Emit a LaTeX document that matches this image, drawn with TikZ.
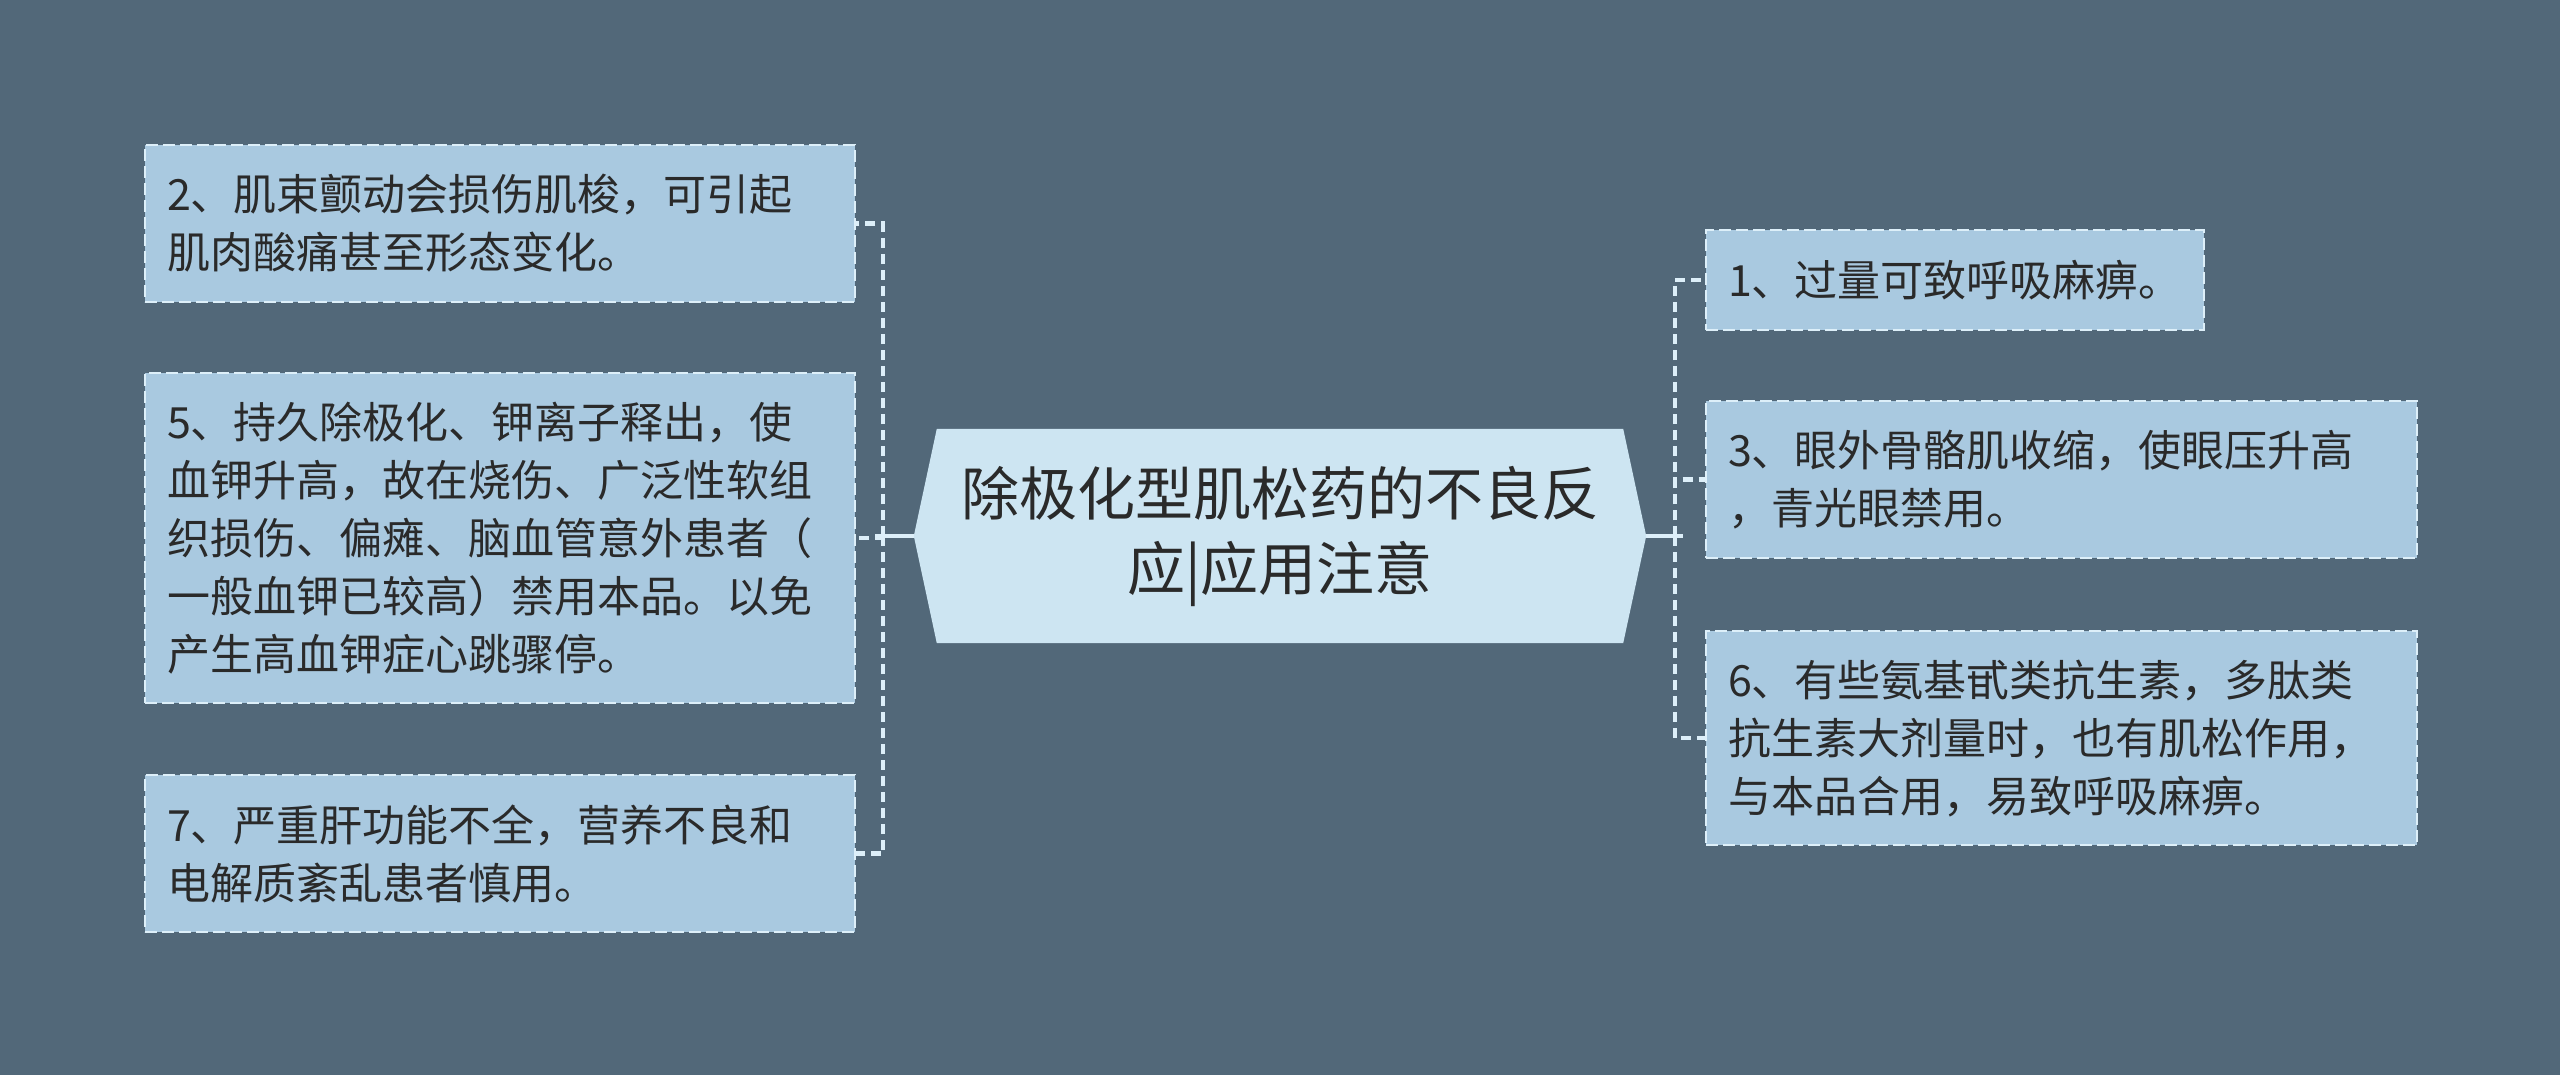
\documentclass[tikz,border=0pt]{standalone}
\usepackage{fontspec}
\setmainfont{Noto Sans CJK SC}
\usetikzlibrary{calc}
\definecolor{bg}{HTML}{526879}
\definecolor{boxfill}{HTML}{A9C9E0}
\definecolor{cfill}{HTML}{CDE5F2}
\definecolor{edge}{HTML}{DDEFF9}
\definecolor{txt}{HTML}{2A2A2A}
\begin{document}
\begin{tikzpicture}[x=1pt,y=-1pt,
  leaf/.style={draw=edge, fill=boxfill, line width=2.2pt, dash pattern=on 12pt off 5pt,
    anchor=north west, inner xsep=22pt, inner ysep=0pt, align=left, text=txt,
    font=\fontsize{43}{58}\selectfont},
  conn/.style={draw=edge, line width=4.5pt, dash pattern=on 10pt off 6pt},
  stub/.style={draw=edge, line width=4.5pt}]
\fill[bg] (0,0) rectangle (2560,1075);
\useasboundingbox (0,0) rectangle (2560,1075);
% center
\node[minimum width=732pt, minimum height=214pt, inner sep=0pt, align=center, text=txt,
  font=\fontsize{58}{75}\selectfont] (c) at (1280,536) {};
\fill[cfill] (c.west) -- ($(c.north west)+(23,0)$) -- ($(c.north east)+(-23,0)$) -- (c.east)
  -- ($(c.south east)+(-23,0)$) -- ($(c.south west)+(23,0)$) -- cycle;
\node[align=center, text=txt, font=\fontsize{58}{75}\selectfont] (ct) at (c.center)
  {除极化型肌松药的不良反\\应|应用注意};
% left leaves
\node[leaf, text width=666pt, minimum width=710pt, minimum height=157pt] (b2) at (144,144)
  {2、肌束颤动会损伤肌梭，可引起\\肌肉酸痛甚至形态变化。};
\node[leaf, text width=666pt, minimum width=710pt, minimum height=330pt] (b5) at (144,372)
  {5、持久除极化、钾离子释出，使\\血钾升高，故在烧伤、广泛性软组\\织损伤、偏瘫、脑血管意外患者（\\一般血钾已较高）禁用本品。以免\\产生高血钾症心跳骤停。};
\node[leaf, text width=666pt, minimum width=710pt, minimum height=157pt] (b7) at (144,774)
  {7、严重肝功能不全，营养不良和\\电解质紊乱患者慎用。};
% right leaves
\node[leaf, text width=454pt, minimum width=498pt, minimum height=100pt] (b1) at (1705,229)
  {1、过量可致呼吸麻痹。};
\node[leaf, text width=667pt, minimum width=711pt, minimum height=157pt] (b3) at (1705,400)
  {3、眼外骨骼肌收缩，使眼压升高\\，青光眼禁用。};
\node[leaf, text width=667pt, minimum width=711pt, minimum height=214pt] (b6) at (1705,630)
  {6、有些氨基甙类抗生素，多肽类\\抗生素大剂量时，也有肌松作用，\\与本品合用，易致呼吸麻痹。};
% connectors
\coordinate (lj) at (883,536);
\coordinate (rj) at (1675,536);
\foreach \b in {b2,b5,b7} \draw[conn] (lj) |- (\b.east);
\foreach \b in {b1,b3,b6} \draw[conn] (rj) |- (\b.west);
\draw[stub] (c.west) -- ($(lj)+(-8,0)$);
\draw[stub] (c.east) -- ($(rj)+(8,0)$);
\end{tikzpicture}
\end{document}
